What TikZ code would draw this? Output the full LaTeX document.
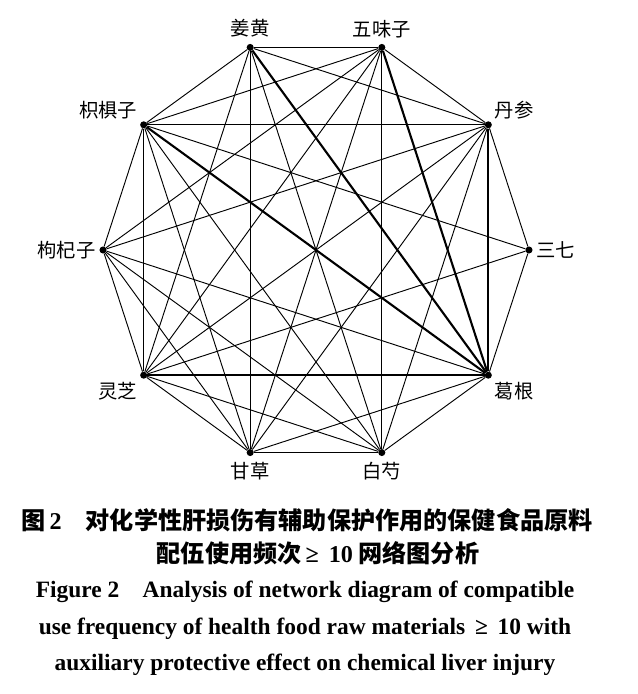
\documentclass[tikz,border=0pt]{standalone}
\usepackage{fontspec}
\setmainfont{Liberation Serif}
\newfontfamily\cjk{Noto Sans CJK SC}
\usetikzlibrary{positioning}

\begin{document}
\begin{tikzpicture}[x=0.03cm,y=0.03cm,
        herb/.style={circle,fill=black,inner sep=0pt,minimum size=6pt},
        lbl/.style={font=\cjk\fontsize{16.5}{16.5}\selectfont,inner sep=2pt},
        link/.style={line width=0.8pt},
        strong/.style={line width=1.8pt}]
        \useasboundingbox (0,0) rectangle (637,694);

        % herbs on the circle
        \begin{scope}[shift={(316,444)}]
        \node[herb,label={[lbl,label distance=1pt]right:三七}] (sanqi) at (0:213) {};
        \node[herb,label={[lbl,label distance=1pt]35:丹参}] (danshen) at (36:213) {};
        \node[herb,label={[lbl,label distance=3pt]above:五味子}] (wuweizi) at (72:213) {};
        \node[herb,label={[lbl,label distance=3pt]above:姜黄}] (jianghuang) at (108:213) {};
        \node[herb,label={[lbl,label distance=1pt]145:枳椇子}] (zhijuzi) at (144:213) {};
        \node[herb,label={[lbl,label distance=1pt]left:枸杞子}] (gouqizi) at (180:213) {};
        \node[herb,label={[lbl,label distance=2pt]-130:灵芝}] (lingzhi) at (216:213) {};
        \node[herb,label={[lbl,label distance=3pt]below:甘草}] (gancao) at (252:213) {};
        \node[herb,label={[lbl,label distance=3pt]below:白芍}] (baishao) at (288:213) {};
        \node[herb,label={[lbl,label distance=2pt]-50:葛根}] (gegen) at (324:213) {};
        \end{scope}

        % combinations with 葛根 used most often
        \draw[strong] (danshen) -- (gegen);
        \draw[strong] (wuweizi) -- (gegen);
        \draw[strong] (jianghuang) -- (gegen);
        \draw[strong] (zhijuzi) -- (gegen);
        \draw[strong] (lingzhi) -- (gegen);

        \draw[link] (sanqi) -- (danshen);
        \draw[link] (sanqi) -- (zhijuzi);
        \draw[link] (sanqi) -- (lingzhi);
        \draw[link] (sanqi) -- (gegen);
        \draw[link] (danshen) -- (wuweizi);
        \draw[link] (danshen) -- (jianghuang);
        \draw[link] (danshen) -- (zhijuzi);
        \draw[link] (danshen) -- (gouqizi);
        \draw[link] (danshen) -- (lingzhi);
        \draw[link] (danshen) -- (gancao);
        \draw[link] (danshen) -- (baishao);
        \draw[link] (wuweizi) -- (jianghuang);
        \draw[link] (wuweizi) -- (zhijuzi);
        \draw[link] (wuweizi) -- (gouqizi);
        \draw[link] (wuweizi) -- (lingzhi);
        \draw[link] (wuweizi) -- (gancao);
        \draw[link] (wuweizi) -- (baishao);
        \draw[link] (jianghuang) -- (zhijuzi);
        \draw[link] (jianghuang) -- (lingzhi);
        \draw[link] (jianghuang) -- (gancao);
        \draw[link] (jianghuang) -- (baishao);
        \draw[link] (zhijuzi) -- (gouqizi);
        \draw[link] (zhijuzi) -- (lingzhi);
        \draw[link] (zhijuzi) -- (gancao);
        \draw[link] (zhijuzi) -- (baishao);
        \draw[link] (gouqizi) -- (lingzhi);
        \draw[link] (gouqizi) -- (gancao);
        \draw[link] (gouqizi) -- (baishao);
        \draw[link] (gouqizi) -- (gegen);
        \draw[link] (lingzhi) -- (gancao);
        \draw[link] (lingzhi) -- (baishao);
        \draw[link] (gancao) -- (baishao);
        \draw[link] (gancao) -- (gegen);
        \draw[link] (baishao) -- (gegen);

        % caption
        \node[font=\cjk\bfseries\fontsize{20.6}{20.6}\selectfont] (capcn1) at (307,174)
              {图\,{\rmfamily 2}\quad 对化学性肝损伤有辅助保护作用的保健食品原料};
        \node[font=\cjk\bfseries\fontsize{20.6}{20.6}\selectfont] (capcn2) at (318,141)
              {配伍使用频次{\rmfamily\,≥\, 10} 网络图分析};
        \node[font=\bfseries\fontsize{20}{20}\selectfont] (capen1) at (305,102)
              {Figure 2\quad Analysis of network diagram of compatible};
        \node[font=\bfseries\fontsize{20}{20}\selectfont] (capen2) at (305,65)
              {use frequency of health food raw materials \,≥\, 10 with};
        \node[font=\bfseries\fontsize{20}{20}\selectfont] (capen3) at (305,29)
              {auxiliary protective effect on chemical liver injury};
\end{tikzpicture}
\end{document}
